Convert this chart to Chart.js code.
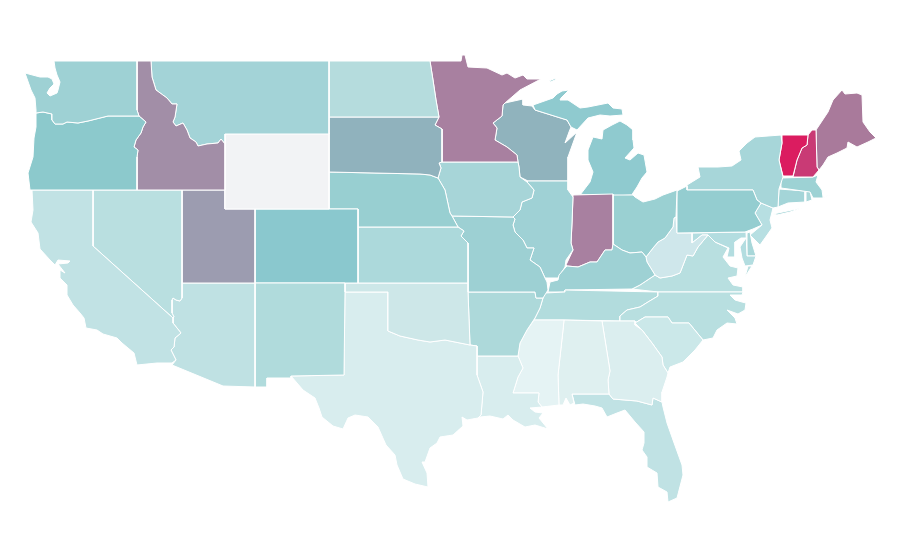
<!DOCTYPE html>
<html><head><meta charset="utf-8">
<style>html,body{margin:0;padding:0;background:#fff}canvas{display:block}</style>
<script src="https://cdn.jsdelivr.net/npm/chart.js@4"></script>
</head><body><canvas id="c" width="900" height="560"></canvas>
<script>
const WA=[[54,61],[137,61],[137,110],[139,116],[108,116],[100,118],[88,121],[78,123],[67,122],[63,124],[55,124],[52,120],[52,114],[43,112],[36,113],[36,110],[35,98],[31,90],[25,73],[40,77],[48,77],[52,79],[54,84],[50,88],[47,93],[50,96],[57,93],[58,90],[60,82],[57,75],[55,68]];
const OR=[[36,113],[43,112],[52,114],[52,120],[55,124],[63,124],[67,122],[78,123],[88,121],[100,118],[108,116],[139,116],[146,122],[143,127],[141,133],[136,140],[134,147],[138,150],[137,157],[137,190],[30,190],[28,173],[33,157],[34,138],[36,127],[36,117]];
const ID=[[138,61],[151,61],[152,77],[156,90],[167,98],[172,104],[177,104],[175,117],[173,122],[176,126],[183,123],[187,130],[190,138],[196,142],[198,146],[207,144],[218,143],[221,139],[225,144],[225,190],[137,190],[137,157],[138,150],[134,147],[136,140],[141,133],[143,127],[146,122],[139,116],[137,110],[137,61]];
const MT=[[151,61],[329,61],[329,134],[225,134],[225,144],[221,139],[218,143],[207,144],[198,146],[196,142],[190,138],[187,130],[183,123],[176,126],[173,122],[175,117],[177,104],[172,104],[167,98],[156,90],[152,77]];
const WY=[[225,134],[329,133],[329,209],[225,209]];
const CA=[[32,190],[93,190],[93,246],[173,318],[173,323],[181,333],[175,338],[174,347],[171,350],[176,360],[172,363],[157,363],[137,365],[134,353],[122,343],[117,338],[103,334],[97,330],[86,328],[84,318],[80,313],[73,305],[67,295],[67,285],[60,278],[60,270],[65,273],[58,264],[68,263],[70,261],[58,260],[55,265],[50,260],[40,249],[38,233],[31,222],[33,210]];
const NV=[[93,190],[182,190],[182,298],[180,301],[176,300],[173,298],[172,300],[172,313],[174,317],[173,318],[93,246]];
const UT=[[182,190],[225,190],[225,209],[255,209],[255,283],[182,283]];
const AZ=[[182,283],[255,283],[255,387],[223,386],[172,365],[176,360],[171,350],[174,347],[175,338],[181,333],[173,323],[173,318],[174,317],[172,313],[172,300],[173,298],[176,300],[180,301],[182,298]];
const NM=[[255,283],[345,283],[345,292],[344,375],[291,376],[291,378],[267,378],[267,387],[255,387]];
const CO=[[255,209],[358,209],[358,283],[255,283]];
const ND=[[329,61],[430,61],[433,80],[436,100],[439,117],[329,117]];
const SD=[[329,117],[439,117],[435,125],[442,129],[442,162],[439,163],[441,168],[438,178],[430,175],[420,174],[329,172]];
const NE=[[329,172],[420,174],[430,175],[438,178],[445,190],[450,213],[452,216],[458,227],[358,227],[358,209],[329,209]];
const KS=[[358,227],[458,227],[464,231],[461,236],[468,243],[468,283],[358,283]];
const OK=[[345,283],[468,283],[468,292],[470,345],[460,343],[445,340],[430,342],[418,340],[400,336],[388,331],[388,292],[345,292]];
const TX=[[345,292],[388,292],[388,331],[400,336],[418,340],[430,342],[445,340],[460,343],[470,345],[477,346],[477,375],[483,392],[481,415],[478,418],[467,420],[462,417],[463,426],[453,435],[440,437],[437,443],[430,448],[425,462],[422,462],[427,473],[428,487],[415,484],[403,479],[397,465],[395,455],[386,445],[378,427],[368,417],[355,415],[348,418],[343,429],[333,426],[322,417],[319,408],[315,398],[303,390],[291,376],[344,375]];
const MN=[[430,61],[461,61],[462,55],[465,55],[468,67],[487,68],[502,75],[507,73],[515,78],[523,75],[527,79],[541,79],[520,90],[505,103],[503,105],[502,116],[493,123],[497,128],[495,140],[507,147],[517,155],[518,162],[442,162],[442,129],[435,125],[439,117],[436,100],[433,80]];
const IA=[[439,162],[518,162],[519,167],[520,177],[527,182],[534,190],[532,198],[522,202],[520,210],[513,217],[452,216],[450,213],[445,190],[438,178],[441,168]];
const MO=[[452,216],[513,217],[515,219],[513,225],[515,232],[523,240],[527,248],[534,248],[530,260],[540,267],[545,278],[547,282],[548,290],[543,298],[536,298],[535,292],[468,292],[468,243],[461,236],[464,231],[458,227]];
const AR=[[468,292],[535,292],[536,298],[543,298],[540,308],[535,318],[527,330],[520,343],[518,356],[477,356],[477,346],[470,345]];
const LA=[[477,356],[518,356],[523,368],[518,377],[513,393],[539,393],[538,402],[542,407],[530,408],[535,412],[543,413],[539,418],[548,429],[535,425],[525,427],[513,420],[508,415],[503,419],[490,416],[480,417],[478,418],[481,415],[483,392],[477,375]];
const MS=[[534,320],[564,320],[563,330],[558,375],[559,405],[542,407],[538,402],[539,393],[513,393],[518,377],[523,368],[518,356],[520,343],[527,330]];
const AL=[[564,320],[602,321],[610,371],[608,380],[609,394],[572,394],[574,403],[570,405],[566,398],[563,405],[559,405],[558,375],[563,330]];
const GA=[[602,321],[635,321],[635,325],[642,330],[652,343],[662,357],[663,365],[668,373],[667,377],[662,392],[662,402],[653,398],[652,405],[637,401],[613,399],[609,394],[608,380],[610,371]];
const FL=[[572,394],[609,394],[613,399],[637,401],[652,405],[653,398],[662,402],[663,407],[667,423],[673,440],[682,465],[683,475],[677,498],[668,502],[667,492],[658,487],[657,473],[647,467],[647,457],[642,450],[644,443],[644,432],[635,422],[625,410],[617,413],[607,417],[602,408],[595,406],[583,404],[575,405]];
const SC=[[635,323],[645,317],[668,317],[672,323],[689,323],[703,340],[695,350],[683,362],[670,367],[668,373],[663,365],[662,357],[652,343],[642,330]];
const NC=[[658,292],[743,292],[742,295],[730,295],[735,300],[742,302],[746,303],[745,310],[738,314],[727,310],[735,318],[737,324],[727,323],[717,330],[713,338],[703,340],[689,323],[672,323],[668,317],[645,317],[635,323],[635,321],[620,321],[620,316],[627,310],[640,307],[648,302],[658,296]];
const TN=[[545,293],[565,292],[565,290],[658,292],[658,296],[648,302],[640,307],[627,310],[620,316],[620,321],[564,320],[534,320],[540,308],[543,298]];
const KY=[[548,292],[550,282],[558,280],[559,275],[565,268],[567,266],[578,267],[590,262],[597,262],[605,250],[612,250],[613,244],[622,250],[630,253],[642,252],[646,257],[647,262],[655,275],[640,285],[632,289],[565,290],[565,292]];
const IL=[[528,181],[568,181],[568,190],[573,197],[572,223],[571,243],[573,250],[566,260],[565,267],[558,278],[550,278],[545,278],[540,267],[530,260],[534,248],[527,248],[523,240],[515,232],[513,225],[515,219],[513,217],[520,210],[522,202],[532,198],[534,190],[527,182]];
const IN=[[573,195],[613,194],[613,244],[612,250],[605,250],[597,262],[590,262],[578,267],[567,266],[566,265],[573,250],[571,243],[572,223]];
const OH=[[613,195],[633,195],[635,197],[643,202],[655,199],[663,195],[677,190],[676,217],[674,218],[673,227],[665,238],[658,242],[653,248],[646,257],[642,252],[630,253],[622,250],[613,244]];
const MI_LOWER=[[575,194],[580,195],[590,182],[593,172],[588,160],[588,150],[593,137],[602,139],[603,130],[612,125],[620,121],[627,125],[633,130],[633,140],[634,148],[625,158],[630,160],[638,153],[644,155],[647,172],[642,178],[637,187],[633,193],[633,195],[613,196]];
const MI_UPPER=[[533,105],[553,98],[557,94],[562,91],[569,90],[565,94],[561,98],[560,100],[568,100],[580,108],[588,107],[608,103],[613,108],[622,109],[623,115],[610,116],[600,115],[588,118],[577,130],[571,127],[567,120],[535,110]];
const MI_ROYALE=[[549,81],[556,78],[555,80],[550,82]];
const WI=[[503,105],[505,103],[523,99],[523,105],[532,106],[535,110],[567,120],[571,127],[569,132],[565,143],[577,132],[568,157],[568,167],[568,181],[528,181],[520,177],[519,167],[518,162],[517,155],[507,147],[495,140],[497,128],[493,123],[502,116]];
const PA=[[677,191],[687,186],[687,190],[753,190],[757,200],[761,203],[755,213],[762,225],[753,229],[745,232],[677,233]];
const NY=[[687,190],[687,185],[700,177],[698,167],[718,167],[732,166],[741,160],[739,151],[747,143],[755,137],[781,135],[782,143],[779,160],[783,177],[779,189],[778,207],[773,208],[761,203],[757,200],[753,190]];
const NY_LONG_ISLAND=[[773,214],[792,210],[802,208],[790,212],[777,215]];
const NJ=[[761,203],[773,208],[770,220],[772,228],[765,238],[760,245],[750,235],[762,225],[755,213]];
const VT=[[782,135],[808,135],[807,145],[802,148],[797,160],[793,176],[783,176],[779,160],[782,143]];
const NH=[[808,135],[812,130],[816,130],[817,167],[819,170],[813,177],[793,177],[797,160],[802,148],[807,145]];
const ME=[[816,130],[828,112],[833,100],[842,90],[845,94],[857,93],[862,95],[863,122],[870,132],[876,138],[868,142],[857,147],[848,142],[847,148],[837,153],[828,157],[823,165],[819,170],[817,167]];
const MA=[[781,188],[781,178],[813,177],[818,175],[816,182],[822,190],[823,197],[830,195],[822,198],[813,198],[810,192]];
const CT=[[779,189],[805,191],[805,202],[788,203],[778,207]];
const RI=[[806,191],[810,191],[812,200],[806,202]];
const WV=[[676,217],[677,233],[692,233],[692,243],[702,235],[708,235],[698,247],[693,256],[687,255],[680,273],[672,276],[660,278],[655,275],[647,262],[646,257],[653,248],[658,242],[665,238],[673,227],[674,218]];
const MD=[[692,233],[746,232],[747,256],[756,256],[753,265],[745,266],[742,258],[740,247],[746,238],[741,238],[735,242],[735,257],[727,257],[729,248],[715,242],[708,235],[702,235],[692,243]];
const DE=[[747,233],[750,232],[752,243],[756,256],[747,256]];
const VA=[[632,289],[640,285],[655,275],[660,278],[672,276],[680,273],[687,255],[693,256],[698,247],[708,235],[715,242],[728,248],[723,257],[730,266],[738,268],[737,276],[728,278],[733,285],[743,287],[743,292],[658,292]];
const VA_SHORE=[[748,266],[752,266],[745,277]];

const outlines=[WA,OR,ID,MT,WY,CA,NV,UT,AZ,NM,CO,ND,SD,NE,KS,OK,TX,MN,IA,MO,AR,LA,MS,AL,GA,FL,SC,NC,TN,KY,IL,IN,OH,MI_LOWER,MI_UPPER,MI_ROYALE,WI,PA,NY,NY_LONG_ISLAND,NJ,VT,NH,ME,MA,CT,RI,WV,MD,DE,VA,VA_SHORE];
const stateNames=['WA','OR','ID','MT','WY','CA','NV','UT','AZ','NM','CO','ND','SD','NE','KS','OK','TX','MN','IA','MO','AR','LA','MS','AL','GA','FL','SC','NC','TN','KY','IL','IN','OH','MI','MI','MI','WI','PA','NY','NY','NJ','VT','NH','ME','MA','CT','RI','WV','MD','DE','VA','VA'];
const stateColors=['#9ed1d4','#8cc9cc','#a28ea7','#a3d3d7','#f2f3f5','#c1e2e4','#b9dfe0','#9c9cb0','#bfe1e3','#b0dbdc','#8ac8ce','#b5dcdd','#90b2bd','#98cfd1','#acd9db','#cde7e8','#d8edee','#a880a0','#a7d5d8','#9dd0d3','#add9da','#d8edee','#e5f3f4','#dff0f0','#dbeeef','#c0e2e4','#cbe8e9','#b8dfe0','#b2dcdd','#9ed1d4','#9fd1d5','#a880a0','#9ad0d2','#8fcacf','#8fcacf','#8fcacf','#90b3bd','#94cdd0','#a7d6d9','#a7d6d9','#b7dfe2','#db1c60','#c93a75','#a97a9b','#9dd2d4','#a4d5d8','#a9d7d9','#cfe7eb','#b3dde0','#a8d7d9','#b8dfe0','#b8dfe0'];

new Chart(document.getElementById('c'),{
  type:'scatter',
  data:{datasets:outlines.map((o,i)=>({
    label:stateNames[i],
    data:o.concat([o[0]]).map(p=>({x:p[0],y:p[1]})),
    showLine:true,tension:0,fill:'shape',
    backgroundColor:stateColors[i],borderColor:'#ffffff',borderWidth:1,borderJoinStyle:'round',
    pointRadius:0,pointHoverRadius:0,clip:false
  }))},
  options:{
    responsive:false,animation:false,devicePixelRatio:1,
    layout:{padding:0},
    plugins:{legend:{display:false},tooltip:{enabled:false}},
    scales:{
      x:{type:'linear',min:0,max:900,display:false},
      y:{type:'linear',min:0,max:560,reverse:true,display:false}
    }
  }
});
</script></body></html>
